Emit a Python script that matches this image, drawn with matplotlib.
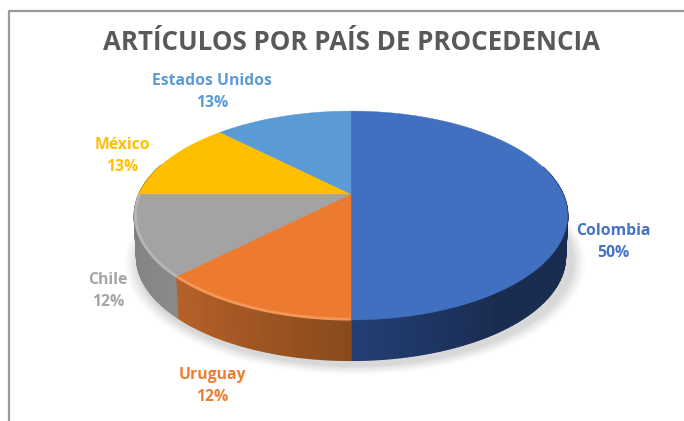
import numpy as np
import matplotlib
matplotlib.use('Agg')
import matplotlib.pyplot as plt
from matplotlib.colors import to_rgb

categories = ['Colombia', 'Uruguay', 'Chile', 'México', 'Estados Unidos']
values = [50, 12.5, 12.5, 12.5, 12.5]
pct_labels = ['50%', '12%', '12%', '13%', '13%']
top_colors = ['#4070BF', '#EC7B30', '#A3A3A3', '#FDBF00', '#5B9BD5']
text_colors = ['#4472C4', '#ED7D31', '#A5A5A5', '#FFC000', '#5B9BD5']
# wall colours, at the start and at the end of each slice (clockwise)
side_start = ['#1A2C50', '#8A4A1C', '#8A8A8A', '#A07A00', '#3A6A98']
side_end = ['#233F75', '#B9622A', '#7E7E7E', '#806000', '#2E5478']
label_pos = [(613, 242), (212, 386), (108, 291), (122, 156), (212, 92)]

cx, cy = 351, 194
a, b, k = 212, 100, 0.206
depth = 42


def project(theta, r=1.0, drop=0):
    # flat disc seen in perspective, theta measured clockwise from 12 o'clock
    x = r * np.sin(theta)
    y = r * np.cos(theta)
    w = 1 + k * y
    return cx + a * x / w, cy + drop - b * y / w


fig = plt.figure(figsize=(6.84, 4.21), dpi=100)
ax = fig.add_axes([0, 0, 1, 1])
ax.set_xlim(0, 684)
ax.set_ylim(421, 0)
ax.axis('off')

# frame of the chart area
ax.plot([8.5, 8.5, 684], [421, 10.5, 10.5], color='#9A9A9A', lw=1.6, solid_capstyle='butt')

# soft shadow under the pie
t = np.linspace(0, 2 * np.pi, 361)
for grow, alpha in zip([1.06, 1.05, 1.04, 1.03, 1.02, 1.01], [0.03, 0.04, 0.05, 0.06, 0.07, 0.08]):
    sx, sy = project(t, grow, depth + 3)
    ax.fill(sx + 4, sy, color='#808080', alpha=alpha, lw=0, zorder=1)

edges = np.cumsum([0] + values) / np.sum(values) * 2 * np.pi

# side wall, only the front half can be seen
for i in range(len(values)):
    lo, hi = edges[i], edges[i + 1]
    th = np.linspace(lo, hi, max(int((hi - lo) * 80), 2))
    c0 = np.array(to_rgb(side_start[i]))
    c1 = np.array(to_rgb(side_end[i]))
    for j in range(len(th) - 1):
        if not (np.pi / 2 - 0.3 < th[j] < 3 * np.pi / 2 + 0.3):
            continue
        x0, y0 = project(th[j])
        x1, y1 = project(th[j + 1])
        x2, y2 = project(th[j + 1], 0.99, depth)
        x3, y3 = project(th[j], 0.99, depth)
        f = (th[j] - lo) / (hi - lo)
        if i == 0:
            # blue stays dark until close to 6 o'clock
            f = max(0, (f - 0.8) / 0.2)
        col = c0 + (c1 - c0) * f
        ax.fill([x0, x1, x2, x3], [y0, y1, y2, y3], color=col, lw=1.0, ec=col, zorder=2)

# top face
for i in range(len(values)):
    th = np.linspace(edges[i], edges[i + 1], 120)
    x, y = project(th)
    ax.fill(np.r_[cx, x], np.r_[cy, y], color=top_colors[i], lw=0.3, ec=top_colors[i], zorder=3)

# lighter bevel on the front rim of the orange and grey slices
for i, col in [(1, '#F39A5E'), (2, '#B8B8B8')]:
    th = np.linspace(edges[i], edges[i + 1], 80)
    x, y = project(th, 0.995)
    ax.plot(x, y, color=col, lw=2.0, alpha=0.9, zorder=4, solid_capstyle='butt')

ax.text(351.5, 42, 'ARTÍCULOS POR PAÍS DE PROCEDENCIA', ha='center', va='center',
        fontsize=18.6, fontweight='bold', family='Open Sans', color='#595959')

for i in range(len(categories)):
    ax.text(label_pos[i][0], label_pos[i][1], categories[i] + '\n' + pct_labels[i],
            ha='center', va='center', fontsize=11.3, fontweight='bold', family='Open Sans',
            color=text_colors[i], linespacing=1.5)

fig.savefig('out.png', dpi=100)
